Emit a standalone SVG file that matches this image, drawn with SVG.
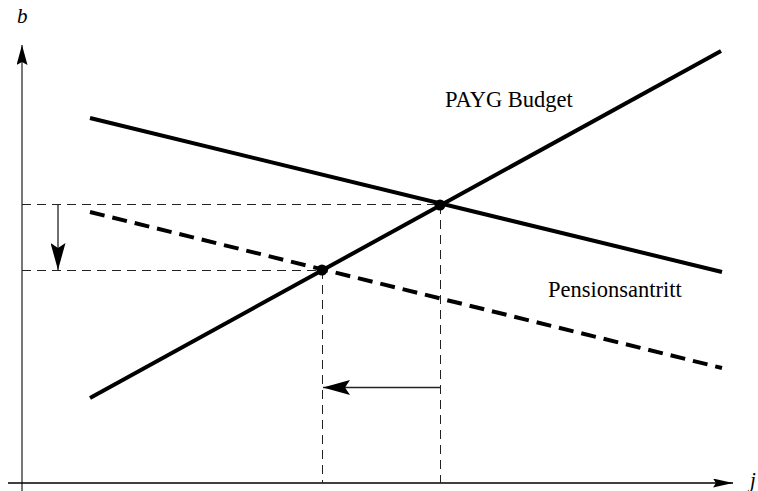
<svg xmlns="http://www.w3.org/2000/svg" width="758" height="491" viewBox="0 0 758 491">
<style>
.yaxis{stroke:#777;stroke-width:2;fill:none}
.xaxis{stroke:#000;stroke-width:1.5;fill:none}
.thick{stroke:#000;stroke-width:4;fill:none}
.thickdash{stroke:#000;stroke-width:4;fill:none;stroke-dasharray:15 8}
.guide{stroke:#222;stroke-width:1;fill:none;stroke-dasharray:9 6}
.arr{stroke:#222;stroke-width:1.3;fill:none}
.lbl{font-family:"Liberation Serif",serif;font-size:22.5px;fill:#000}
.ax{font-family:"Liberation Serif",serif;font-size:21px;font-style:italic;fill:#000}
</style>
<defs>
<marker id="ah" viewBox="0 0 20 11" refX="20" refY="5.5" markerWidth="20" markerHeight="11" markerUnits="userSpaceOnUse" orient="auto">
<path d="M0,0 L20,5.5 L0,11 L3,5.5 Z" fill="#000"/>
</marker>
<marker id="ahx" viewBox="0 0 20 9" refX="20" refY="4.5" markerWidth="20" markerHeight="9" markerUnits="userSpaceOnUse" orient="auto">
<path d="M0,0 L20,4.5 L0,9 L3,4.5 Z" fill="#000"/>
</marker>
<marker id="ahb" viewBox="0 0 27 15" refX="27" refY="7.5" markerWidth="27" markerHeight="15" markerUnits="userSpaceOnUse" orient="auto">
<path d="M0,0 L27,7.5 L0,15 L5,7.5 Z" fill="#000"/>
</marker>
</defs>
<g id="connectors">
<line class="yaxis" x1="22" y1="491" x2="22" y2="45" marker-end="url(#ah)"/>
<line class="xaxis" x1="8" y1="483" x2="733" y2="483" marker-end="url(#ahx)"/>
<line class="guide" x1="22" y1="204.5" x2="440" y2="204.5"/>
<line class="guide" x1="22" y1="270.5" x2="322" y2="270.5"/>
<line class="guide" x1="440.5" y1="205" x2="440.5" y2="483"/>
<line class="guide" x1="322.5" y1="270" x2="322.5" y2="483"/>
<line class="arr" x1="58" y1="205" x2="58" y2="270" marker-end="url(#ahb)"/>
<line class="arr" x1="440" y1="387.5" x2="323" y2="387.5" marker-end="url(#ahb)"/>
</g>
<g id="payg-budget">
<line class="thick" x1="90" y1="118" x2="722" y2="272"/>
<text class="lbl" x="445" y="107">PAYG Budget</text>
</g>
<g id="pensionsantritt">
<line class="thick" x1="90" y1="398" x2="721" y2="51"/>
<line class="thickdash" x1="90" y1="212" x2="722" y2="368"/>
<text class="lbl" x="548" y="297">Pensionsantritt</text>
</g>
<g id="points">
<circle cx="440" cy="205" r="5.5" fill="#000"/>
<circle cx="322" cy="270" r="5.5" fill="#000"/>
</g>
<g id="labels">
<text class="ax" x="17" y="23">b</text>
<text class="ax" x="750" y="487">j</text>
</g>
</svg>
